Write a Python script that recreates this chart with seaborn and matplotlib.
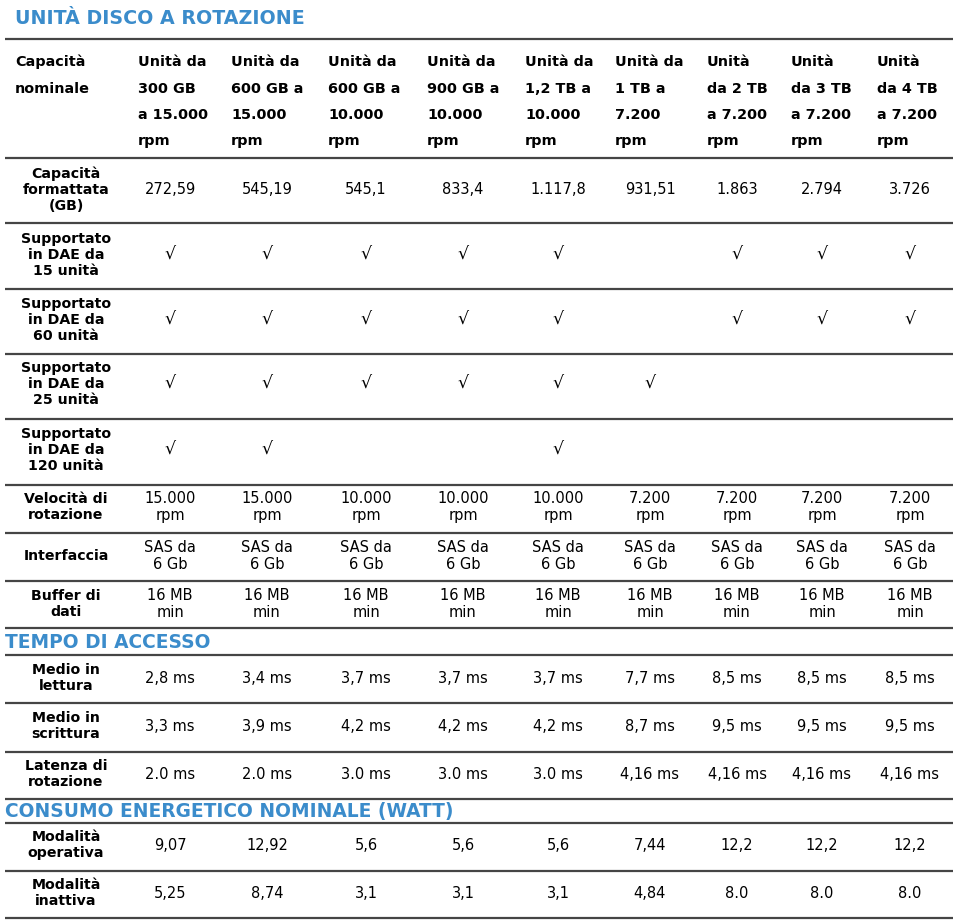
import matplotlib
matplotlib.use("Agg")
import matplotlib.pyplot as plt
import seaborn as sns

# --- table content ---
titolo = "UNITÀ DISCO A ROTAZIONE"
sezione_accesso = "TEMPO DI ACCESSO"
sezione_consumo = "CONSUMO ENERGETICO NOMINALE (WATT)"

intestazione_etichetta = ["Capacità", "nominale"]
intestazioni = [
    ["Unità da", "300 GB", "a 15.000", "rpm"],
    ["Unità da", "600 GB a", "15.000", "rpm"],
    ["Unità da", "600 GB a", "10.000", "rpm"],
    ["Unità da", "900 GB a", "10.000", "rpm"],
    ["Unità da", "1,2 TB a", "10.000", "rpm"],
    ["Unità da", "1 TB a", "7.200", "rpm"],
    ["Unità", "da 2 TB", "a 7.200", "rpm"],
    ["Unità", "da 3 TB", "a 7.200", "rpm"],
    ["Unità", "da 4 TB", "a 7.200", "rpm"],
]

capacita_formattata = ["272,59", "545,19", "545,1", "833,4", "1.117,8",
                       "931,51", "1.863", "2.794", "3.726"]
dae_15 = [1, 1, 1, 1, 1, 0, 1, 1, 1]
dae_60 = [1, 1, 1, 1, 1, 0, 1, 1, 1]
dae_25 = [1, 1, 1, 1, 1, 1, 0, 0, 0]
dae_120 = [1, 1, 0, 0, 1, 0, 0, 0, 0]
velocita = ["15.000\nrpm", "15.000\nrpm", "10.000\nrpm", "10.000\nrpm",
            "10.000\nrpm", "7.200\nrpm", "7.200\nrpm", "7.200\nrpm", "7.200\nrpm"]
interfaccia = ["SAS da\n6 Gb"] * 9
buffer_dati = ["16 MB\nmin"] * 9
medio_lettura = ["2,8 ms", "3,4 ms", "3,7 ms", "3,7 ms", "3,7 ms",
                 "7,7 ms", "8,5 ms", "8,5 ms", "8,5 ms"]
medio_scrittura = ["3,3 ms", "3,9 ms", "4,2 ms", "4,2 ms", "4,2 ms",
                   "8,7 ms", "9,5 ms", "9,5 ms", "9,5 ms"]
latenza = ["2.0 ms", "2.0 ms", "3.0 ms", "3.0 ms", "3.0 ms",
           "4,16 ms", "4,16 ms", "4,16 ms", "4,16 ms"]
modalita_operativa = ["9,07", "12,92", "5,6", "5,6", "5,6",
                      "7,44", "12,2", "12,2", "12,2"]
modalita_inattiva = ["5,25", "8,74", "3,1", "3,1", "3,1",
                     "4,84", "8.0", "8.0", "8.0"]

etichette_corpo = [
    "Capacità\nformattata\n(GB)",
    "Supportato\nin DAE da\n15 unità",
    "Supportato\nin DAE da\n60 unità",
    "Supportato\nin DAE da\n25 unità",
    "Supportato\nin DAE da\n120 unità",
    "Velocità di\nrotazione",
    "Interfaccia",
    "Buffer di\ndati",
    "Medio in\nlettura",
    "Medio in\nscrittura",
    "Latenza di\nrotazione",
    "Modalità\noperativa",
    "Modalità\ninattiva",
]

def spunte(flags):
    return ["√" if f else "" for f in flags]

valori_corpo = [capacita_formattata, spunte(dae_15), spunte(dae_60),
                spunte(dae_25), spunte(dae_120), velocita, interfaccia,
                buffer_dati, medio_lettura, medio_scrittura, latenza,
                modalita_operativa, modalita_inattiva]

# --- layout (pixel coordinates) ---
BLU = "#3b8ccb"
LINEA = "#454545"
head_x = [138, 231, 328, 427, 525, 615, 707, 791, 877]
head_base = [66, 93, 119, 145]
col_x = [170, 267, 366, 463, 558, 650, 737, 822, 910]
label_x = 66
row_y = [190, 255, 320, 384, 450, 507, 556, 604, 678, 726, 774, 845, 893]
rules = [39, 158, 223, 289, 354, 419, 485, 533, 581, 628, 655,
         703, 752, 799, 823, 871, 918]

sns.set_theme(style="white")
plt.rcParams["font.family"] = ["DejaVu Sans"]

fig = plt.figure(figsize=(9.6, 9.21), dpi=100)
ax = fig.add_axes([0, 0, 1, 1])
ax.set_xlim(0, 960)
ax.set_ylim(921, 0)
ax.axis("off")

ax.text(15, 18, titolo, color=BLU, fontsize=13.7, fontweight="bold",
        ha="left", va="center")
ax.text(5, 642, sezione_accesso, color=BLU, fontsize=13.4,
        fontweight="bold", ha="left", va="center")
ax.text(5, 811, sezione_consumo, color=BLU, fontsize=13.4,
        fontweight="bold", ha="left", va="center")

ax.hlines(rules, 5, 953, colors=LINEA, linewidth=1.6)

for i, t in enumerate(intestazione_etichetta):
    ax.text(15, head_base[i], t, fontsize=10.4, fontweight="bold",
            ha="left", va="baseline", color="black")
for x, righe in zip(head_x, intestazioni):
    for yb, t in zip(head_base, righe):
        ax.text(x, yb, t, fontsize=10.4, fontweight="bold",
                ha="left", va="baseline", color="black")

for y, lab, vals in zip(row_y, etichette_corpo, valori_corpo):
    ax.text(label_x, y, lab, fontsize=10.2, fontweight="bold", ha="center",
            va="center", multialignment="center", linespacing=1.2,
            color="black")
    for x, v in zip(col_x, vals):
        if v == "√":
            ax.text(x, y, v, fontsize=12.5, ha="center", va="center",
                    color="black")
        else:
            ax.text(x, y, v, fontsize=10.5, ha="center", va="center",
                    multialignment="center", linespacing=1.2,
                    color="black")

fig.savefig("out.png", dpi=100, facecolor="white")
